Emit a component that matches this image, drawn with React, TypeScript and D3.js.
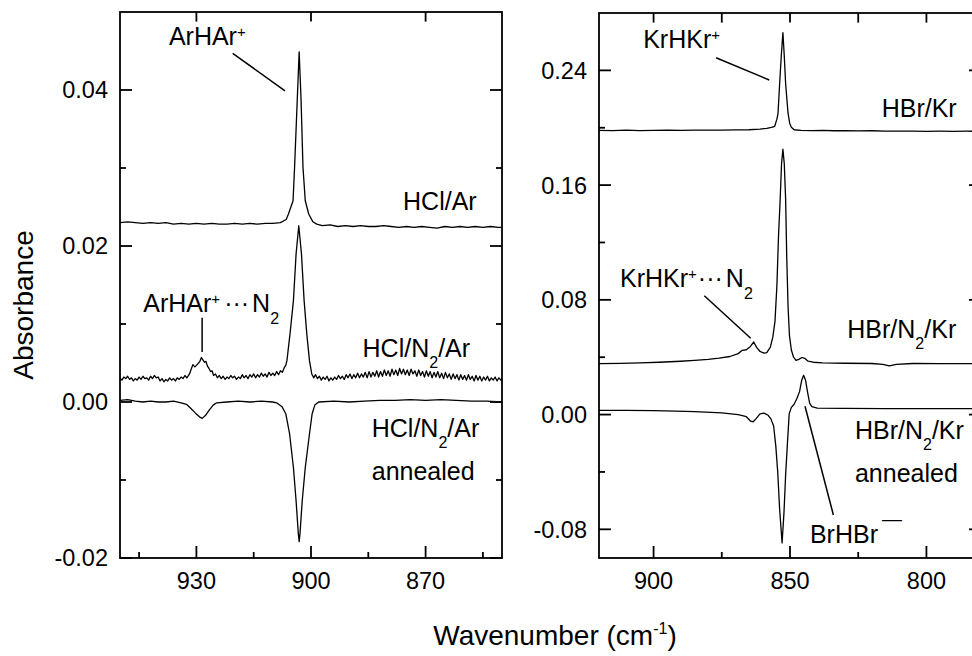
import React from 'react';
import * as d3 from 'd3';

type Pt = [number, number];

// left panel: HCl / Ar matrices (wavenumber cm-1, absorbance)
const hclAr: Pt[] = [
  [950, 0.023], [948, 0.0231], [946, 0.023], [944, 0.0229], [942, 0.023], [940, 0.0229], [938, 0.023],
  [936, 0.0228], [934, 0.0229], [932, 0.0228], [930, 0.0229], [928, 0.0228], [926, 0.0229], [924, 0.0228],
  [922, 0.0228], [920, 0.0229], [918, 0.0228], [916, 0.0229], [914, 0.0228], [912, 0.0229], [910, 0.0229],
  [908, 0.023], [906.5, 0.0234], [905.9, 0.0241], [904.7, 0.0258], [904.3, 0.0301], [903.6, 0.0387],
  [903.1, 0.0449], [902.6, 0.0387], [902.1, 0.0301], [901.5, 0.0258], [900.6, 0.0241], [899.5, 0.0231],
  [898.5, 0.0228], [897, 0.0226], [895, 0.0227], [893, 0.0225], [891, 0.0226], [889, 0.0225], [887, 0.0226],
  [885, 0.0225], [883, 0.0225], [881, 0.0226], [879, 0.0225], [877, 0.0224], [875, 0.0225], [873, 0.0224],
  [871, 0.0225], [869, 0.0224], [867, 0.0223], [865, 0.0225], [863, 0.0224], [861, 0.0225], [859, 0.0224],
  [857, 0.0225], [855, 0.0224], [853, 0.0225], [851, 0.0224], [850, 0.0224],
];

const hclN2Ar: Pt[] = [
  [950, 0.0031], [949.5, 0.0028], [949, 0.0032], [948.5, 0.003], [948, 0.0033], [947.5, 0.0029],
  [947, 0.0031], [946.5, 0.0027], [946, 0.003], [945.5, 0.0028], [945, 0.0032], [944.5, 0.0029],
  [944, 0.0033], [943.5, 0.003], [943, 0.0031], [942.5, 0.0028], [942, 0.0033], [941.5, 0.003],
  [941, 0.0034], [940.5, 0.0031], [940, 0.0032], [939.5, 0.0027], [939, 0.003], [938.5, 0.0026],
  [938, 0.0029], [937.5, 0.0027], [937, 0.0031], [936.5, 0.0028], [936, 0.003], [935.5, 0.0027],
  [935, 0.0031], [934.5, 0.0029], [934, 0.0032], [933.5, 0.003], [933, 0.0034], [932.5, 0.0031],
  [931.8, 0.0036], [931.3, 0.0043], [930.9, 0.0048], [930.4, 0.0045], [930, 0.0047], [929.6, 0.0049],
  [929.1, 0.0052], [928.7, 0.0057], [928.3, 0.0054], [927.9, 0.0051], [927.5, 0.0052], [927.1, 0.0046],
  [926.7, 0.0043], [926.3, 0.0039], [925.9, 0.004], [925.5, 0.0034], [925, 0.0036],
  [924.5, 0.0031], [924, 0.0034], [923.5, 0.003], [923, 0.0033], [922.5, 0.0029], [922, 0.0032],
  [921.5, 0.003], [921, 0.0034], [920.5, 0.0031], [920, 0.0033], [919.5, 0.0029], [919, 0.0032],
  [918.5, 0.003], [918, 0.0035], [917.5, 0.0031], [917, 0.0034], [916.5, 0.003], [916, 0.0035],
  [915.5, 0.0032], [915, 0.0036], [914.5, 0.0031], [914, 0.0035], [913.5, 0.0032], [913, 0.0037],
  [912.5, 0.0033], [912, 0.0036], [911.5, 0.0032], [911, 0.0038], [910.5, 0.0034], [910, 0.0037],
  [909.5, 0.0034], [909, 0.0039], [908.5, 0.0035], [908, 0.004], [907.5, 0.0038], [907, 0.0044],
  [906.6, 0.0047], [906.3, 0.0053], [905.5, 0.0087], [904.6, 0.013], [903.9, 0.019], [903.2, 0.0226],
  [902.5, 0.019], [901.8, 0.013], [901.1, 0.0087], [900.4, 0.0053], [899.8, 0.0036],
  [899.3, 0.0031], [898.8, 0.0035], [898.3, 0.003], [897.8, 0.0033], [897.3, 0.0028], [896.8, 0.0032],
  [896.3, 0.0029], [895.8, 0.0033], [895.3, 0.0027], [894.8, 0.0031], [894.3, 0.0028], [893.8, 0.0032],
  [893.3, 0.0029], [892.8, 0.0034], [892.3, 0.003], [891.8, 0.0033], [891.3, 0.0029], [890.8, 0.0035],
  [890.3, 0.0031], [889.8, 0.0036], [889.3, 0.003], [888.8, 0.0035], [888.3, 0.0031], [887.8, 0.0037],
  [887.3, 0.0031], [886.8, 0.0036], [886.3, 0.0032], [885.8, 0.0038], [885.3, 0.0031], [884.8, 0.0039],
  [884.3, 0.0032], [883.8, 0.0038], [883.3, 0.0033], [882.8, 0.004], [882.3, 0.0032], [881.8, 0.0039],
  [881.3, 0.0033], [880.8, 0.0041], [880.3, 0.0034], [879.8, 0.004], [879.3, 0.0033], [878.8, 0.0042],
  [878.3, 0.0035], [877.8, 0.0041], [877.3, 0.0034], [876.8, 0.0043], [876.3, 0.0036], [875.8, 0.0042],
  [875.3, 0.0035], [874.8, 0.0041], [874.3, 0.0034], [873.8, 0.0042], [873.3, 0.0036], [872.8, 0.004],
  [872.3, 0.0033], [871.8, 0.0041], [871.3, 0.0034], [870.8, 0.0039], [870.3, 0.0032], [869.8, 0.004],
  [869.3, 0.0033], [868.8, 0.0039], [868.3, 0.0031], [867.8, 0.0038], [867.3, 0.0032], [866.8, 0.0039],
  [866.3, 0.0031], [865.8, 0.0037], [865.3, 0.003], [864.8, 0.0038], [864.3, 0.0031], [863.8, 0.0036],
  [863.3, 0.0029], [862.8, 0.0036], [862.3, 0.003], [861.8, 0.0035], [861.3, 0.0028], [860.8, 0.0035],
  [860.3, 0.0029], [859.8, 0.0034], [859.3, 0.0028], [858.8, 0.0035], [858.3, 0.0029], [857.8, 0.0033],
  [857.3, 0.0027], [856.8, 0.0034], [856.3, 0.0028], [855.8, 0.0033], [855.3, 0.0027], [854.8, 0.0032],
  [854.3, 0.0028], [853.8, 0.0033], [853.3, 0.0027], [852.8, 0.0031], [852.3, 0.0028], [851.8, 0.0032],
  [851.3, 0.0027], [850.8, 0.0031], [850.3, 0.0028], [850, 0.003],
];

const hclN2ArAnnealed: Pt[] = [
  [950, 0.0002], [948, 0.0003], [946, 0.0001], [944, 0.0], [942, 0.0001], [940, 0.0], [938, 0.0],
  [936, 0.0001], [934, -0.0001], [932.6, -0.0003], [931.5, -0.0008], [930.3, -0.0014], [929.2, -0.0019],
  [928.5, -0.0021], [927.6, -0.0017], [926.6, -0.001], [925.6, -0.0004], [924.7, -0.0001], [922, 0.0],
  [919, 0.0001], [916, 0.0], [913, 0.0001], [910, 0.0], [909, -0.0001], [907.6, -0.0006], [906.6, -0.0015],
  [905.6, -0.0041], [904.6, -0.0084], [903.9, -0.0127], [903.3, -0.017], [903.1, -0.0179], [902.9, -0.017],
  [902.3, -0.0127], [901.5, -0.0084], [900.4, -0.0041], [899.7, -0.0015], [899, -0.0004], [898, 0.0],
  [894, 0.0001], [890, 0.0], [886, 0.0001], [882, 0.0002], [878, 0.0002], [874, 0.0003], [870, 0.0002],
  [866, 0.0003], [862, 0.0002], [858, 0.0001], [854, 0.0001], [850, 0.0],
];

// right panel: HBr / Kr matrices
const hbrKr: Pt[] = [
  [920, 0.1982], [915, 0.198], [910, 0.1983], [905, 0.198], [900, 0.1981], [895, 0.1984], [890, 0.1982],
  [885, 0.1983], [880, 0.1984], [875, 0.1983], [870, 0.1985], [865, 0.1986], [861, 0.199], [858.5, 0.1996],
  [856.8, 0.2003], [855.6, 0.201], [854.8, 0.206], [854.4, 0.2098], [853.8, 0.2307], [853.2, 0.25],
  [852.6, 0.2663], [852.1, 0.25], [851.6, 0.2307], [850.7, 0.2098], [850.1, 0.203], [849.5, 0.2003],
  [848.5, 0.1986], [846, 0.1982], [842, 0.198], [838, 0.1981], [834, 0.1979], [830, 0.198], [825, 0.1978],
  [820, 0.1979], [815, 0.1977], [810, 0.1976], [805, 0.1977], [800, 0.1975], [795, 0.1976], [790, 0.1975],
  [785, 0.1976], [780, 0.1975],
];

const hbrN2Kr: Pt[] = [
  [920, 0.0355], [912, 0.0357], [905, 0.036], [898, 0.0365], [890, 0.0372], [885, 0.0378], [880, 0.0385],
  [876, 0.0394], [872, 0.0405], [869, 0.0425], [867.5, 0.0448], [866, 0.0452], [864.5, 0.0475],
  [863.3, 0.0506], [862.3, 0.047], [861, 0.044], [859.5, 0.0428], [858.5, 0.0432], [857.2, 0.047],
  [856.3, 0.054], [855.5, 0.065], [854.8, 0.09], [854.2, 0.125], [853.6, 0.15], [853.1, 0.175],
  [852.6, 0.185], [852.1, 0.175], [851.6, 0.15], [851.2, 0.11], [850.7, 0.075], [850.2, 0.055],
  [849.5, 0.045], [848.7, 0.04], [847.8, 0.0378], [846.8, 0.0385], [845.6, 0.0398], [844.6, 0.0392],
  [843.4, 0.0372], [841.5, 0.0365], [838, 0.036], [830, 0.0358], [820, 0.0356], [816, 0.035],
  [813.6, 0.0339], [811, 0.035], [805, 0.0356], [795, 0.0355], [780, 0.0356],
];

const hbrN2KrAnnealed: Pt[] = [
  [920, 0.003], [910, 0.0029], [900, 0.0028], [892, 0.0024], [885, 0.002], [875, 0.0012], [869, 0.0],
  [866, -0.0015], [864.5, -0.0045], [863.5, -0.005], [862.5, -0.003], [861, 0.0005], [859.5, 0.001],
  [858, -0.0005], [857, -0.003], [856, -0.008], [855.2, -0.022], [854.5, -0.04], [853.8, -0.066],
  [852.9, -0.0895], [852.2, -0.068], [851.6, -0.042], [851, -0.022], [850.3, 0.0005], [849.5, 0.005],
  [848.5, 0.0072], [847.5, 0.011], [846.5, 0.016], [845.7, 0.024], [845, 0.0274], [844.3, 0.024],
  [843.5, 0.015], [842.8, 0.008], [842, 0.0055], [840, 0.0045], [830, 0.0043], [815, 0.0042],
  [800, 0.0041], [780, 0.0041],
];

// ticks
const leftXTicks = [930, 900, 870];
const leftXMinor = [945, 915, 885, 855];
const leftYTicks = [0.04, 0.02, 0.0, -0.02];
const leftYMinor = [0.03, 0.01, -0.01];
const rightXTicks = [900, 850, 800];
const rightXMinor = [875, 825];
const rightYTicks = [0.24, 0.16, 0.08, 0.0, -0.08];
const rightYMinor = [0.2, 0.12, 0.04, -0.04];

const FONT = "'Liberation Sans', Arial, Helvetica, sans-serif";
const TICK_FS = 23.5;
const LABEL_FS = 25;
const MAJOR = 12;
const MINOR = 6;

type Box = { left: number; right: number; top: number; bottom: number };

type PanelProps = {
  box: Box;
  xDomain: [number, number];
  yDomain: [number, number];
  xTicks: number[];
  xMinor: number[];
  yTicks: number[];
  yMinor: number[];
  topMinor: boolean;
  series: Pt[][];
  annotate: (x: d3.ScaleLinear<number, number>, y: d3.ScaleLinear<number, number>) => React.ReactNode;
};

const Panel = ({ box, xDomain, yDomain, xTicks, xMinor, yTicks, yMinor, topMinor, series, annotate }: PanelProps) => {
  const x = d3.scaleLinear().domain(xDomain).range([box.left, box.right]);
  const y = d3.scaleLinear().domain(yDomain).range([box.bottom, box.top]);
  const line = d3.line<Pt>().x((d) => x(d[0])).y((d) => y(d[1]));

  return (
    <g>
      {series.map((s, i) => (
        <path key={i} d={line(s) ?? ''} fill="none" stroke="#000" strokeWidth={1.3} strokeLinejoin="round" />
      ))}

      <g stroke="#000" strokeWidth={1.8}>
        <rect x={box.left} y={box.top} width={box.right - box.left} height={box.bottom - box.top} fill="none" />
        {xTicks.map((t) => (
          <g key={'xt' + t}>
            <line x1={x(t)} x2={x(t)} y1={box.bottom} y2={box.bottom - MAJOR} />
            <line x1={x(t)} x2={x(t)} y1={box.top} y2={box.top + MAJOR * 0.8} />
          </g>
        ))}
        {xMinor.map((t) => (
          <g key={'xm' + t}>
            <line x1={x(t)} x2={x(t)} y1={box.bottom} y2={box.bottom - MINOR} />
            {topMinor && <line x1={x(t)} x2={x(t)} y1={box.top} y2={box.top + MAJOR * 0.8} />}
          </g>
        ))}
        {yTicks.map((t) => (
          <g key={'yt' + t}>
            <line x1={box.left} x2={box.left + MAJOR} y1={y(t)} y2={y(t)} />
            <line x1={box.right} x2={box.right - MAJOR} y1={y(t)} y2={y(t)} />
          </g>
        ))}
        {yMinor.map((t) => (
          <g key={'ym' + t}>
            <line x1={box.left} x2={box.left + MINOR} y1={y(t)} y2={y(t)} />
            <line x1={box.right} x2={box.right - MINOR} y1={y(t)} y2={y(t)} />
          </g>
        ))}
      </g>

      <g fontSize={TICK_FS} fill="#000">
        {xTicks.map((t) => (
          <text key={'xl' + t} x={x(t)} y={box.bottom + 31} textAnchor="middle">
            {t}
          </text>
        ))}
        {yTicks.map((t) => (
          <text key={'yl' + t} x={box.left - 12} y={y(t) + 8.4} textAnchor="end">
            {t.toFixed(2)}
          </text>
        ))}
      </g>

      <g fontSize={LABEL_FS} fill="#000">{annotate(x, y)}</g>
    </g>
  );
};

const Lead = ({ x1, y1, x2, y2 }: { x1: number; y1: number; x2: number; y2: number }) => (
  <line x1={x1} y1={y1} x2={x2} y2={y2} stroke="#000" strokeWidth={1.5} />
);

const App = () => {
  const width = 972;
  const height = 656;

  return (
    <svg
      width={width}
      height={height}
      style={{ position: 'absolute', left: 0, top: 0, background: '#fff', overflow: 'hidden' }}
      fontFamily={FONT}
    >
      <Panel
        box={{ left: 120, right: 502, top: 12, bottom: 558 }}
        xDomain={[950, 850]}
        yDomain={[-0.02, 0.05]}
        xTicks={leftXTicks}
        xMinor={leftXMinor}
        yTicks={leftYTicks}
        yMinor={leftYMinor}
        topMinor={false}
        series={[hclAr, hclN2Ar, hclN2ArAnnealed]}
        annotate={(x, y) => (
          <>
            <text x={x(937.2)} y={y(0.0458)}>
              ArHAr<tspan dy={-8} fontSize={15}>+</tspan>
            </text>
            <Lead x1={x(920.5)} y1={y(0.0447)} x2={x(906.8)} y2={y(0.0399)} />
            <text x={x(875.9)} y={y(0.0246)}>HCl/Ar</text>

            <text x={x(943.9)} y={y(0.0116)}>
              ArHAr<tspan dy={-8} fontSize={15}>+</tspan>
              <tspan dy={8} dx={4}>{'\u00B7\u00B7\u00B7'}</tspan>
              <tspan dx={3}>N</tspan>
              <tspan dy={12} fontSize={16}>2</tspan>
            </text>
            <Lead x1={x(928.5)} y1={y(0.0108)} x2={x(928.5)} y2={y(0.0064)} />

            <text x={x(886.5)} y={y(0.0058)}>
              HCl/N<tspan dy={11} fontSize={16}>2</tspan>
              <tspan dy={-11}>/Ar</tspan>
            </text>

            <text x={x(884.1)} y={y(-0.0045)}>
              HCl/N<tspan dy={11} fontSize={16}>2</tspan>
              <tspan dy={-11}>/Ar</tspan>
            </text>
            <text x={x(884.1)} y={y(-0.01)}>annealed</text>
          </>
        )}
      />

      <Panel
        box={{ left: 599, right: 981, top: 13, bottom: 558 }}
        xDomain={[920, 780]}
        yDomain={[-0.1, 0.28]}
        xTicks={rightXTicks}
        xMinor={rightXMinor}
        yTicks={rightYTicks}
        yMinor={rightYMinor}
        topMinor={true}
        series={[hbrKr, hbrN2Kr, hbrN2KrAnnealed]}
        annotate={(x, y) => (
          <>
            <text x={x(903.8)} y={y(0.2554)}>
              KrHKr<tspan dy={-8} fontSize={15}>+</tspan>
            </text>
            <Lead x1={x(877.1)} y1={y(0.2488)} x2={x(857.6)} y2={y(0.2333)} />
            <text x={x(816.4)} y={y(0.2077)}>HBr/Kr</text>

            <text x={x(912.3)} y={y(0.0892)}>
              KrHKr<tspan dy={-8} fontSize={15}>+</tspan>
              <tspan dy={8} dx={1}>{'\u00B7\u00B7\u00B7'}</tspan>
              <tspan dx={3}>N</tspan>
              <tspan dy={12} fontSize={16}>2</tspan>
            </text>
            <Lead x1={x(881.4)} y1={y(0.0829)} x2={x(864.4)} y2={y(0.0532)} />

            <text x={x(829.0)} y={y(0.0532)}>
              HBr/N<tspan dy={11} fontSize={16}>2</tspan>
              <tspan dy={-11}>/Kr</tspan>
            </text>

            <text x={x(826.2)} y={y(-0.0172)}>
              HBr/N<tspan dy={11} fontSize={16}>2</tspan>
              <tspan dy={-11}>/Kr</tspan>
            </text>
            <text x={x(826.2)} y={y(-0.0468)}>annealed</text>

            <text x={x(842.7)} y={y(-0.0898)}>
              BrHBr<tspan dx={4} dy={-17} fontSize={20}>{'\u2014'}</tspan>
            </text>
            <Lead x1={x(844.5)} y1={y(0.0058)} x2={x(834.1)} y2={y(-0.07)} />
          </>
        )}
      />

      <text x={555} y={645} fontSize={28} textAnchor="middle">
        Wavenumber (cm<tspan dy={-11} fontSize={16}>-1</tspan>
        <tspan dy={11}>)</tspan>
      </text>
      <text transform="translate(33,305) rotate(-90)" fontSize={28} textAnchor="middle">
        Absorbance
      </text>
    </svg>
  );
};

export default App;
